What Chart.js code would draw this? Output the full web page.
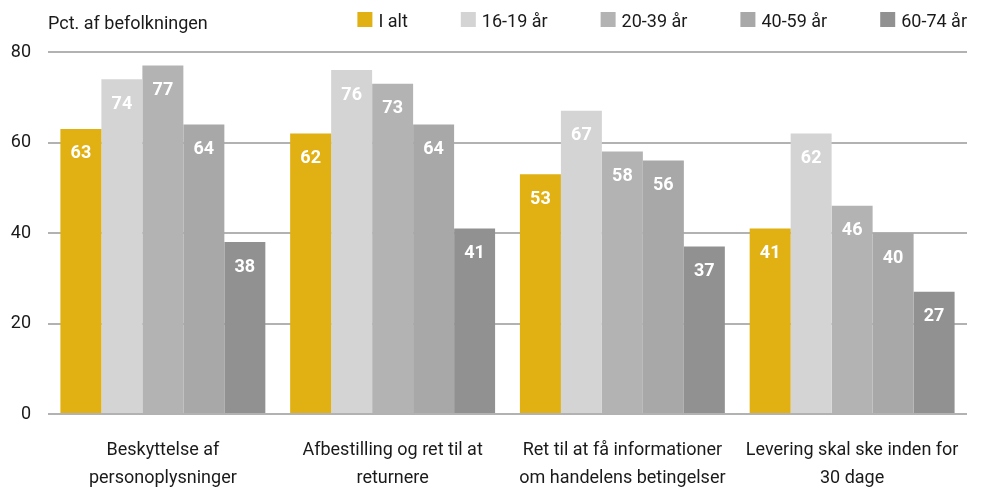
<!DOCTYPE html>
<html lang="da">
<head>
<meta charset="utf-8">
<title>Pct. af befolkningen</title>
<script src="https://cdn.jsdelivr.net/npm/chart.js@4.4.1/dist/chart.umd.min.js"></script>
<style>
  html, body { margin: 0; padding: 0; background: #fff; }
</style>
</head>
<body>
<canvas id="chart" width="985" height="488"></canvas>
<script>
// Kategorier (to linjer pr. etiket) og serier i pct. af befolkningen
const kategorier = [
    ['Beskyttelse af', 'personoplysninger'],
    ['Afbestilling og ret til at', 'returnere'],
    ['Ret til at få informationer', 'om handelens betingelser'],
    ['Levering skal ske inden for', '30 dage']
];
const serieNavne = ['I alt', '16-19 år', '20-39 år', '40-59 år', '60-74 år'];
const iAlt = [63, 62, 53, 41];
const aar16til19 = [74, 76, 67, 62];
const aar20til39 = [77, 73, 58, 46];
const aar40til59 = [64, 64, 56, 40];
const aar60til74 = [38, 41, 37, 27];
const yTicks = [0, 20, 40, 60, 80];

const farver = ['#e1b012', '#d4d4d4', '#b3b3b3', '#a8a8a8', '#919191'];
const FONT = 'Roboto, "Noto Sans", sans-serif';
const TEKSTFARVE = '#1a1a1a';

// Hvide værdier inde i toppen af hver søjle
const vaerdiEtiketter = {
    id: 'vaerdiEtiketter',
    afterDatasetsDraw(chart) {
        const ctx = chart.ctx;
        ctx.save();
        ctx.font = `bold 18px ${FONT}`;
        ctx.fillStyle = '#ffffff';
        ctx.textAlign = 'center';
        ctx.textBaseline = 'middle';
        chart.data.datasets.forEach((ds, i) => {
            chart.getDatasetMeta(i).data.forEach((bar, j) => {
                ctx.fillText(String(ds.data[j]), bar.x, bar.y + 25);
            });
        });
        ctx.restore();
    }
};

// Aksetitel øverst til venstre og forklaring højrestillet over plotområdet
const overskriftOgForklaring = {
    id: 'overskriftOgForklaring',
    afterDraw(chart) {
        const ctx = chart.ctx;
        const area = chart.chartArea;
        ctx.save();
        ctx.font = `18px ${FONT}`;
        ctx.fillStyle = TEKSTFARVE;
        ctx.textAlign = 'left';
        ctx.textBaseline = 'alphabetic';
        ctx.fillText('Pct. af befolkningen', area.left, 29);

        const boks = 15, tekstAfstand = 6, mellemrum = 53;
        const bredder = serieNavne.map(n => ctx.measureText(n).width);
        const samlet = bredder.reduce((a, b) => a + b, 0)
            + serieNavne.length * (boks + tekstAfstand)
            + (serieNavne.length - 1) * mellemrum;
        let x = area.right - samlet;
        serieNavne.forEach((navn, i) => {
            ctx.fillStyle = farver[i];
            ctx.fillRect(x, 12, boks, boks);
            ctx.fillStyle = TEKSTFARVE;
            ctx.fillText(navn, x + boks + tekstAfstand, 27);
            x += boks + tekstAfstand + bredder[i] + mellemrum;
        });
        ctx.restore();
    }
};

const serier = [iAlt, aar16til19, aar20til39, aar40til59, aar60til74];

new Chart(document.getElementById('chart').getContext('2d'), {
    type: 'bar',
    data: {
        labels: kategorier,
        datasets: serier.map((data, i) => ({
            label: serieNavne[i],
            data: data,
            backgroundColor: farver[i],
            borderWidth: 0,
            categoryPercentage: 0.892,
            barPercentage: 1.0
        }))
    },
    options: {
        responsive: false,
        animation: false,
        layout: { padding: { top: 52, right: 18, left: 0, bottom: 0 } },
        scales: {
            x: {
                grid: { display: false, drawTicks: false },
                border: { display: false },
                ticks: {
                    font: { family: FONT, size: 18, lineHeight: '28px' },
                    color: TEKSTFARVE,
                    padding: 22,
                    maxRotation: 0,
                    autoSkip: false
                },
                afterFit: (scale) => { scale.height = 74; }
            },
            y: {
                min: 0, max: 80,
                afterBuildTicks: (scale) => { scale.ticks = yTicks.map(v => ({ value: v })); },
                grid: { color: '#b2b2b2', lineWidth: 2, drawTicks: false },
                border: { display: false },
                ticks: {
                    font: { family: FONT, size: 18 },
                    color: TEKSTFARVE,
                    padding: 17
                },
                afterFit: (scale) => { scale.width = 48; }
            }
        },
        plugins: {
            legend: { display: false },
            tooltip: { enabled: false }
        }
    },
    plugins: [vaerdiEtiketter, overskriftOgForklaring]
});
</script>
</body>
</html>
